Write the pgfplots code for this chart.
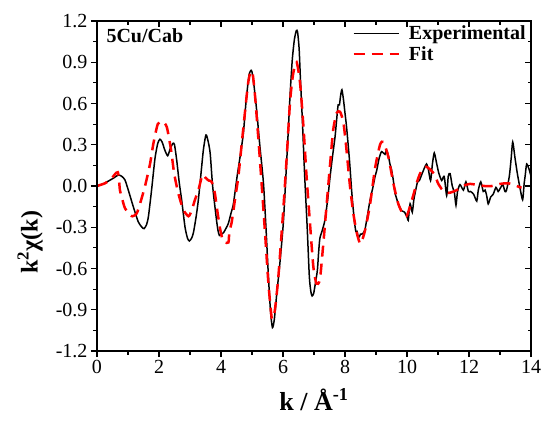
\documentclass[border=0pt]{standalone}
\usepackage{fontspec}
\setmainfont{Liberation Serif}
\usepackage{pgfplots}
\pgfplotsset{compat=1.18}
\usepackage{pgfplotstable}

\pgfplotstableread{
k v
0.00 0.000
0.20 0.015
0.37 0.036
0.55 0.060
0.69 0.080
0.80 0.070
0.90 0.045
1.01 -0.03
1.17 -0.15
1.33 -0.26
1.45 -0.30
1.52 -0.31
1.60 -0.28
1.66 -0.22
1.76 -0.03
1.87 0.20
1.96 0.31
2.03 0.34
2.10 0.32
2.19 0.26
2.28 0.22
2.36 0.27
2.45 0.31
2.50 0.30
2.57 0.19
2.65 0.03
2.73 -0.10
2.84 -0.30
2.92 -0.38
2.98 -0.40
3.05 -0.38
3.11 -0.34
3.20 -0.22
3.27 -0.10
3.35 0.08
3.43 0.26
3.50 0.36
3.53 0.37
3.58 0.33
3.65 0.24
3.73 0.00
3.84 -0.22
3.90 -0.32
3.95 -0.36
4.02 -0.35
4.08 -0.34
4.18 -0.30
4.24 -0.27
4.32 -0.20
4.40 -0.13
4.52 0.07
4.62 0.22
4.72 0.38
4.81 0.62
4.90 0.80
4.96 0.84
5.00 0.83
5.07 0.72
5.15 0.55
5.25 0.30
5.37 0.02
5.45 -0.30
5.53 -0.66
5.60 -0.92
5.66 -1.03
5.72 -0.97
5.80 -0.78
5.90 -0.56
6.01 -0.27
6.10 0.10
6.17 0.40
6.23 0.67
6.30 0.92
6.37 1.07
6.43 1.13
6.47 1.12
6.52 1.00
6.56 0.79
6.63 0.45
6.70 0.07
6.78 -0.30
6.85 -0.66
6.90 -0.77
6.94 -0.80
6.99 -0.78
7.05 -0.70
7.11 -0.61
7.15 -0.48
7.19 -0.38
7.27 -0.32
7.35 -0.25
7.44 -0.10
7.52 0.07
7.60 0.22
7.68 0.36
7.75 0.53
7.78 0.59
7.82 0.59
7.86 0.66
7.90 0.70
7.95 0.63
8.00 0.53
8.05 0.43
8.14 0.20
8.22 -0.05
8.30 -0.25
8.35 -0.33
8.39 -0.33
8.42 -0.37
8.46 -0.37
8.50 -0.35
8.54 -0.35
8.60 -0.34
8.65 -0.31
8.72 -0.22
8.81 -0.10
8.90 -0.01
8.97 0.07
9.02 0.11
9.10 0.20
9.18 0.25
9.29 0.23
9.34 0.26
9.40 0.22
9.45 0.16
9.50 0.12
9.56 0.04
9.61 -0.05
9.65 -0.08
9.72 -0.13
9.83 -0.18
9.92 -0.19
10.01 -0.23
10.04 -0.25
10.10 -0.13
10.17 -0.19
10.22 -0.10
10.28 -0.03
10.34 0.03
10.40 0.04
10.47 0.08
10.56 0.13
10.63 0.16
10.69 0.12
10.76 0.04
10.82 0.16
10.88 0.24
10.96 0.16
11.03 0.09
11.12 0.04
11.20 0.07
11.28 -0.07
11.33 0.07
11.39 0.09
11.46 0.00
11.53 -0.05
11.58 -0.14
11.63 -0.04
11.71 0.01
11.82 -0.03
11.90 0.03
11.98 -0.04
12.05 -0.04
12.15 -0.06
12.25 -0.11
12.30 -0.03
12.38 0.03
12.46 -0.04
12.52 -0.03
12.57 -0.07
12.62 -0.13
12.70 -0.08
12.78 -0.06
12.87 -0.01
12.94 -0.04
13.00 -0.02
13.09 0.01
13.16 -0.04
13.21 -0.03
13.30 0.07
13.36 0.20
13.41 0.32
13.48 0.21
13.56 0.09
13.65 -0.02
13.73 -0.10
13.78 0.02
13.81 0.07
13.86 0.16
13.94 0.12
14.00 0.07
}\exptable

\pgfplotstableread{
k v
0.00 0.00
0.26 0.02
0.45 0.05
0.67 0.10
0.74 -0.03
0.82 -0.10
0.90 -0.16
1.06 -0.21
1.15 -0.22
1.28 -0.20
1.40 -0.12
1.55 0.00
1.71 0.16
1.82 0.31
1.96 0.45
2.10 0.47
2.25 0.43
2.39 0.26
2.49 0.09
2.62 -0.05
2.78 -0.17
2.95 -0.22
3.05 -0.18
3.16 -0.10
3.27 -0.03
3.40 0.08
3.50 0.06
3.60 0.04
3.70 0.03
3.80 -0.05
3.88 -0.18
3.97 -0.31
4.05 -0.39
4.12 -0.41
4.24 -0.41
4.27 -0.33
4.34 -0.27
4.45 -0.10
4.56 0.07
4.67 0.31
4.77 0.53
4.87 0.74
4.95 0.83
5.02 0.82
5.10 0.65
5.20 0.36
5.30 0.05
5.42 -0.34
5.53 -0.71
5.63 -0.95
5.68 -0.96
5.74 -0.90
5.85 -0.66
6.01 -0.17
6.12 0.21
6.23 0.62
6.33 0.82
6.44 0.90
6.55 0.75
6.66 0.43
6.76 0.07
6.87 -0.27
6.98 -0.59
7.08 -0.71
7.19 -0.68
7.30 -0.42
7.41 -0.13
7.52 0.16
7.62 0.41
7.73 0.53
7.84 0.54
7.95 0.46
8.05 0.26
8.16 0.00
8.27 -0.20
8.38 -0.34
8.50 -0.42
8.65 -0.32
8.81 -0.13
8.97 0.13
9.13 0.30
9.24 0.32
9.40 0.21
9.56 0.02
9.72 -0.13
9.88 -0.21
9.98 -0.22
10.04 -0.19
10.20 -0.07
10.31 0.02
10.42 0.09
10.53 0.13
10.62 0.14
10.75 0.12
10.90 0.08
11.00 0.02
11.15 -0.03
11.35 -0.05
11.60 -0.03
11.80 0.00
12.03 0.015
12.30 0.007
12.50 0.00
12.73 0.00
13.00 0.015
13.20 0.02
13.38 0.015
13.65 -0.01
13.70 -0.01
}\fittable

\begin{document}
\begin{tikzpicture}
\useasboundingbox (-97pt,-73pt) rectangle (454pt,351pt);
\pgfplotsset{
  common/.style={
    scale only axis, width=434pt, height=330pt,
    at={(0pt,0pt)}, anchor=south west,
    xmin=0, xmax=14, ymin=-1.2, ymax=1.2,
    xtick={0,2,4,6,8,10,12,14},
    ytick={-1.2,-0.9,-0.6,-0.3,0,0.3,0.6,0.9,1.2},
    minor x tick num=1, minor y tick num=1,
    axis line style={line width=1.2pt},
    major tick length=6pt, minor tick length=3.5pt,
    every tick/.style={line width=1.1pt, black},
  }
}
\begin{axis}[common,
    tick align=outside,
    xtick pos=left, ytick pos=left,
    xticklabels={0,2,4,6,8,10,12,14},
    yticklabels={-1.2,-0.9,-0.6,-0.3,0.0,0.3,0.6,0.9,1.2},
    tick label style={font=\fontsize{20}{24}\selectfont},
    xlabel={\textbf{k / Å\textsuperscript{-1}}},
    ylabel={\textbf{k\textsuperscript{2}χ(k)}},
    xlabel style={font=\fontsize{26}{30}\selectfont, at={(axis description cs:0.5,0)}, anchor=base, yshift=-59pt},
    ylabel style={font=\fontsize{24}{30}\selectfont, at={(axis description cs:-0.154,0.33)}, anchor=center},
    legend style={draw=none, fill=none, at={(axis description cs:0.995,0.995)}, anchor=north east,
      font=\fontsize{20}{24}\selectfont\bfseries, row sep=1pt, inner sep=1pt,
      /tikz/every odd column/.append style={column sep=7pt}},
    legend cell align=left,
    legend image code/.code={\draw[#1] (0pt,0pt) -- (45pt,0pt);},
  ]
\addplot[black, line width=1.5pt, smooth, tension=0.4] table[x=k,y=v] {\exptable};
\addlegendentry{Experimental}
\addplot[red, line width=2.5pt, dash pattern=on 11pt off 7pt, smooth, tension=0.4] table[x=k,y=v] {\fittable};
\addlegendentry{Fit}
\node[anchor=base west, font=\fontsize{20}{24}\selectfont\bfseries] at (axis description cs:0.0138,0.936) {5Cu/Cab};
\end{axis}
\begin{axis}[common,
    tick align=inside,
    xtick pos=right, ytick pos=right,
    xticklabels={}, yticklabels={},
  ]
\end{axis}
\end{tikzpicture}
\end{document}
